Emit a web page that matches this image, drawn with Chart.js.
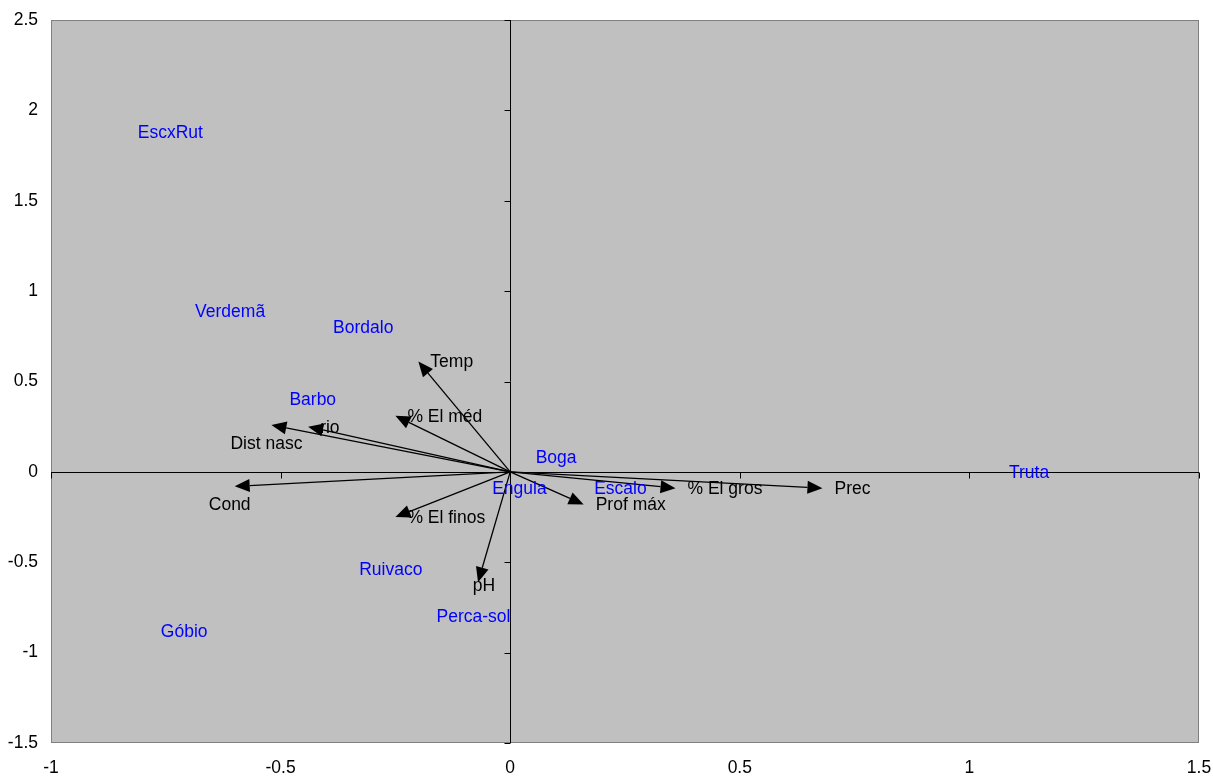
<!DOCTYPE html>
<html>
<head>
<meta charset="utf-8">
<script src="https://cdn.jsdelivr.net/npm/chart.js@4.4.1/dist/chart.umd.min.js"></script>
<style>
    html, body { margin: 0; padding: 0; background: #fff; }
    #wrap { width: 1213px; height: 778px; }
</style>
</head>
<body>
<div id="wrap"><canvas id="biplot" width="1213" height="778"></canvas></div>
<script>
// Species scores (blue labels)
const speciesNames = ['EscxRut', 'Verdemã', 'Bordalo', 'Barbo', 'Boga', 'Engula', 'Escalo', 'Truta', 'Ruivaco', 'Perca-sol', 'Góbio'];
const speciesX = [-0.74, -0.61, -0.32, -0.43, 0.10, 0.02, 0.24, 1.13, -0.26, -0.08, -0.71];
const speciesY = [1.88, 0.89, 0.80, 0.40, 0.08, -0.09, -0.09, 0.00, -0.54, -0.80, -0.88];

// Environmental variables (arrows)
const varNames = ['Temp', '% El méd', 'rio', 'Dist nasc', 'Cond', '% El finos', 'pH', 'Prof máx', '% El gros', 'Prec'];
const varX = [-0.20, -0.25, -0.44, -0.52, -0.60, -0.25, -0.07, 0.16, 0.36, 0.68];
const varY = [0.61, 0.31, 0.25, 0.26, -0.08, -0.25, -0.61, -0.18, -0.09, -0.09];
const varLabelSide = ['right', 'right', 'right', 'below', 'below', 'right', 'center', 'right', 'right', 'right'];

// Axis ticks
const xTicks = [-1, -0.5, 0, 0.5, 1, 1.5];
const yTicks = [-1.5, -1, -0.5, 0, 0.5, 1, 1.5, 2, 2.5];

const FONT = '"Liberation Sans", Arial, sans-serif';
const FONT_SIZE = 17.5;

// Plot background, frame, axes through origin, arrows and labels
const biplotPlugin = {
    id: 'biplot',
    beforeDraw(chart) {
        const { ctx, chartArea: a } = chart;
        ctx.save();
        ctx.fillStyle = '#c0c0c0';
        ctx.fillRect(a.left, a.top, a.right - a.left, a.bottom - a.top);
        ctx.strokeStyle = '#808080';
        ctx.lineWidth = 1;
        ctx.strokeRect(a.left + 0.5, a.top + 0.5, a.right - a.left - 1, a.bottom - a.top - 1);
        ctx.restore();
    },
    afterDatasetsDraw(chart) {
        const { ctx, chartArea: a, scales: { x, y } } = chart;
        const x0 = Math.round(x.getPixelForValue(0)) + 0.5;
        const y0 = Math.round(y.getPixelForValue(0)) + 0.5;

        ctx.save();
        // axis lines
        ctx.strokeStyle = '#000';
        ctx.lineWidth = 1;
        ctx.beginPath();
        ctx.moveTo(a.left, y0);
        ctx.lineTo(a.right, y0);
        ctx.moveTo(x0, a.top);
        ctx.lineTo(x0, a.bottom);
        xTicks.forEach(v => {
            const px = Math.round(x.getPixelForValue(v)) + 0.5;
            ctx.moveTo(px, y0);
            ctx.lineTo(px, y0 + 6);
        });
        yTicks.forEach(v => {
            const py = Math.round(y.getPixelForValue(v)) + 0.5;
            ctx.moveTo(x0, py);
            ctx.lineTo(x0 - 6, py);
        });
        ctx.stroke();

        // arrows
        const ox = x.getPixelForValue(0);
        const oy = y.getPixelForValue(0);
        ctx.lineWidth = 1.3;
        ctx.fillStyle = '#000';
        for (let i = 0; i < varNames.length; i++) {
            const tx = x.getPixelForValue(varX[i]);
            const ty = y.getPixelForValue(varY[i]);
            const ang = Math.atan2(ty - oy, tx - ox);
            const len = 15, half = 6.5;
            const bx = tx - len * Math.cos(ang);
            const by = ty - len * Math.sin(ang);
            ctx.beginPath();
            ctx.moveTo(ox, oy);
            ctx.lineTo(bx, by);
            ctx.stroke();
            ctx.beginPath();
            ctx.moveTo(tx, ty);
            ctx.lineTo(bx + half * Math.sin(ang), by - half * Math.cos(ang));
            ctx.lineTo(bx - half * Math.sin(ang), by + half * Math.cos(ang));
            ctx.closePath();
            ctx.fill();
        }

        // arrow labels
        ctx.font = FONT_SIZE + 'px ' + FONT;
        ctx.fillStyle = '#000';
        ctx.textBaseline = 'middle';
        for (let i = 0; i < varNames.length; i++) {
            const tx = x.getPixelForValue(varX[i]);
            const ty = y.getPixelForValue(varY[i]);
            const side = varLabelSide[i];
            if (side === 'right') {
                ctx.textAlign = 'left';
                ctx.fillText(varNames[i], tx + 12, ty + 1);
            } else if (side === 'below') {
                ctx.textAlign = 'center';
                ctx.fillText(varNames[i], tx - 5, ty + 19);
            } else {
                ctx.textAlign = 'center';
                ctx.fillText(varNames[i], tx + 6, ty + 4);
            }
        }

        // species labels
        ctx.fillStyle = '#0000ff';
        ctx.textAlign = 'center';
        for (let i = 0; i < speciesNames.length; i++) {
            ctx.fillText(speciesNames[i], x.getPixelForValue(speciesX[i]), y.getPixelForValue(speciesY[i]) + 1);
        }
        ctx.restore();
    }
};

const speciesPoints = speciesX.map((v, i) => ({ x: v, y: speciesY[i] }));

// keep the plot frame where the reference has it
function noEdgePadding(s) {
    s.paddingLeft = 0;
    s.paddingRight = 0;
    s.paddingTop = 0;
    s.paddingBottom = 0;
}

new Chart(document.getElementById('biplot'), {
    type: 'scatter',
    data: {
        datasets: [{
            label: 'Espécies',
            data: speciesPoints,
            pointRadius: 0,
            pointHoverRadius: 0
        }]
    },
    options: {
        responsive: false,
        animation: false,
        events: [],
        layout: { padding: { left: 0, right: 14, top: 20, bottom: 0 } },
        plugins: {
            legend: { display: false },
            tooltip: { enabled: false },
            title: { display: false }
        },
        scales: {
            x: {
                type: 'linear',
                min: -1,
                max: 1.5,
                afterBuildTicks: s => { s.ticks = xTicks.map(v => ({ value: v })); },
                afterFit: s => { s.height = 35; noEdgePadding(s); },
                grid: { display: false, drawTicks: false },
                border: { display: false },
                ticks: {
                    color: '#000',
                    padding: 15,
                    maxRotation: 0,
                    callback: v => String(v),
                    font: { family: FONT, size: FONT_SIZE }
                }
            },
            y: {
                type: 'linear',
                min: -1.5,
                max: 2.5,
                afterBuildTicks: s => { s.ticks = yTicks.map(v => ({ value: v })); },
                afterFit: s => { s.width = 51; noEdgePadding(s); },
                grid: { display: false, drawTicks: false },
                border: { display: false },
                ticks: {
                    color: '#000',
                    padding: 13,
                    callback: v => String(v),
                    font: { family: FONT, size: FONT_SIZE }
                }
            }
        }
    },
    plugins: [biplotPlugin]
});
</script>
</body>
</html>
